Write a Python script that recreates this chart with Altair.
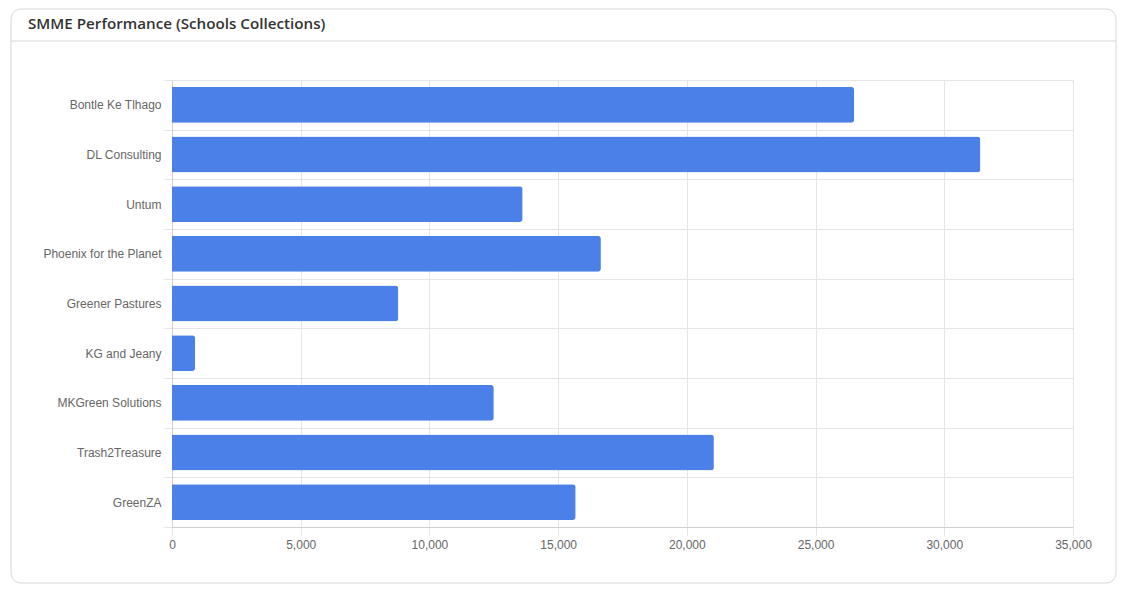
import altair as alt
import pandas as pd

# values
smmes = ["Bontle Ke Tlhago", "DL Consulting", "Untum", "Phoenix for the Planet",
         "Greener Pastures", "KG and Jeany", "MKGreen Solutions", "Trash2Treasure", "GreenZA"]
collections = [26500, 31400, 13620, 16660, 8790, 900, 12500, 21050, 15680]
x_ticks = [0, 5000, 10000, 15000, 20000, 25000, 30000, 35000]
card_title = "SMME Performance (Schools Collections)"

df = pd.DataFrame({"smme": smmes, "collected": collections})

GRID = "#e5e5e5"
LABEL = "#666666"
FONT = "Liberation Sans"

bars = alt.Chart(df).mark_bar(
    color="#4a80e8", cornerRadiusEnd=3, height=alt.RelativeBandSize(band=0.72)
).encode(
    x=alt.X("collected:Q",
            scale=alt.Scale(domain=[0, 35000], nice=False),
            axis=alt.Axis(title=None, values=x_ticks, format=",.0f", grid=True,
                          gridColor=GRID, tickColor=GRID, tickSize=8,
                          domainColor="#d0d0d0", labelColor=LABEL, labelFont=FONT,
                          labelFontSize=12, labelPadding=4, labelFlush=False)),
    y=alt.Y("smme:N", sort=smmes,
            scale=alt.Scale(paddingInner=0, paddingOuter=0),
            axis=alt.Axis(title=None, tickBand="extent", grid=True,
                          gridColor=GRID, tickColor=GRID, tickSize=8,
                          domainColor="#d0d0d0", labelColor=LABEL, labelFont=FONT,
                          labelFontSize=12, labelPadding=3)),
    tooltip=["smme", alt.Tooltip("collected", format=",.0f")],
)

# card frame, header text and header divider
one = pd.DataFrame({"label": [card_title]})

card = alt.Chart(one).mark_rect(
    fill="transparent", stroke="#d6d6d6", strokeWidth=1, cornerRadius=10
).encode(x=alt.value(-161), x2=alt.value(944), y=alt.value(-71), y2=alt.value(503))

divider = alt.Chart(one).mark_rule(color="#d9d9d9", strokeWidth=1).encode(
    x=alt.value(-161), x2=alt.value(944), y=alt.value(-39)
)

header = alt.Chart(one).mark_text(
    align="left", baseline="middle", font="Open Sans", fontSize=15.2,
    fontWeight=600, color="#333333"
).encode(text="label:N", x=alt.value(-144), y=alt.value(-56))

chart = alt.layer(card, divider, header, bars).properties(
    width=901,
    height=447,
    padding={"left": 164, "top": 72, "right": 45, "bottom": 57},
    autosize="none",
    background="white",
).configure_view(stroke=None)

chart.save("out.html", embed_options={"renderer": "svg", "actions": False})
